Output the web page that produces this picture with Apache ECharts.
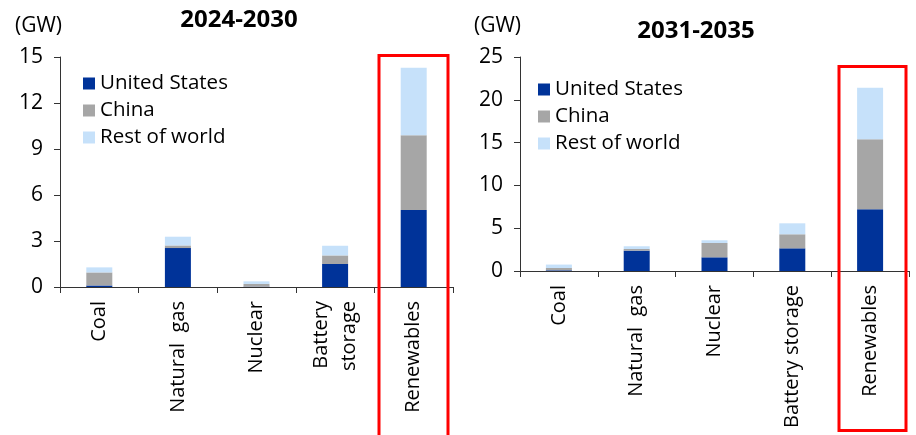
<!DOCTYPE html>
<html>
<head>
<meta charset="utf-8">
<script src="https://cdn.jsdelivr.net/npm/echarts@6/dist/echarts.min.js"></script>
<style>
  html, body { margin: 0; padding: 0; background: #fff; }
  #chart { width: 916px; height: 435px; }
</style>
</head>
<body>
<div id="chart"></div>
<script>
// categories (labels for the two panels)
var catsLeft = ["Coal", "Natural  gas", "Nuclear", "Battery\nstorage", "Renewables"];
var catsRight = ["Coal", "Natural  gas", "Nuclear", "Battery storage", "Renewables"];

// 2024-2030, GW
var usLeft = [0.1, 2.54, 0.02, 1.5, 5.02];
var chinaLeft = [0.85, 0.17, 0.18, 0.56, 4.88];
var rowLeft = [0.33, 0.57, 0.17, 0.63, 4.4];

// 2031-2035, GW
var usRight = [0.08, 2.38, 1.6, 2.65, 7.21];
var chinaRight = [0.27, 0.19, 1.67, 1.64, 8.18];
var rowRight = [0.4, 0.32, 0.32, 1.28, 6.03];

var ticksLeft = { min: 0, max: 15, interval: 3 };
var ticksRight = { min: 0, max: 25, interval: 5 };

var FONT = "Open Sans";
var cUS = "#003399";
var cChina = "#A6A6A6";
var cRow = "#C6E1FA";

var chart = echarts.init(document.getElementById("chart"));

function xAxisOf(idx, cats) {
  return {
    type: "category",
    gridIndex: idx,
    data: cats,
    axisLine: { lineStyle: { color: "#333", width: 1 } },
    axisTick: { show: true, length: 6, alignWithLabel: false, lineStyle: { color: "#333" } },
    axisLabel: {
      rotate: 90,
      interval: 0,
      margin: 14,
      fontFamily: FONT,
      fontSize: 20,
      lineHeight: 28,
      color: "#000"
    }
  };
}

function yAxisOf(idx, t) {
  return {
    type: "value",
    gridIndex: idx,
    min: t.min,
    max: t.max,
    interval: t.interval,
    splitLine: { show: false },
    axisLine: { show: true, lineStyle: { color: "#333", width: 1 } },
    axisTick: { show: true, length: 6, lineStyle: { color: "#333" } },
    axisLabel: { fontFamily: FONT, fontSize: 21, color: "#000", margin: 17 }
  };
}

function barOf(name, data, idx, stack, color) {
  return {
    name: name,
    type: "bar",
    xAxisIndex: idx,
    yAxisIndex: idx,
    stack: stack,
    data: data,
    barWidth: 26,
    itemStyle: { color: color },
    emphasis: { disabled: true }
  };
}

function legendOf(left, top) {
  return {
    orient: "vertical",
    left: left,
    top: top,
    padding: 0,
    itemWidth: 12,
    itemHeight: 12,
    itemGap: 6,
    icon: "rect",
    selectedMode: false,
    data: ["United States", "China", "Rest of world"],
    textStyle: { fontFamily: FONT, fontSize: 20.5, lineHeight: 20, color: "#000" }
  };
}

var option = {
  animation: false,
  textStyle: { fontFamily: FONT },
  title: [
    { text: "2024-2030", left: 234, top: 3, textAlign: "center",
      textStyle: { fontFamily: FONT, fontSize: 24, fontWeight: "bold", color: "#000" } },
    { text: "2031-2035", left: 691, top: 14, textAlign: "center",
      textStyle: { fontFamily: FONT, fontSize: 24, fontWeight: "bold", color: "#000" } },
    { text: "(GW)", left: 15, top: 16, padding: 0,
      textStyle: { fontFamily: FONT, fontSize: 21, fontWeight: "normal", color: "#000" } },
    { text: "(GW)", left: 474, top: 16, padding: 0,
      textStyle: { fontFamily: FONT, fontSize: 21, fontWeight: "normal", color: "#000" } }
  ],
  legend: [legendOf(83, 73), legendOf(538, 79)],
  grid: [
    { left: 60, top: 57, width: 393, height: 230 },
    { left: 520, top: 57, width: 389, height: 214 }
  ],
  xAxis: [xAxisOf(0, catsLeft), xAxisOf(1, catsRight)],
  yAxis: [yAxisOf(0, ticksLeft), yAxisOf(1, ticksRight)],
  series: [
    barOf("United States", usLeft, 0, "left", cUS),
    barOf("China", chinaLeft, 0, "left", cChina),
    barOf("Rest of world", rowLeft, 0, "left", cRow),
    barOf("United States", usRight, 1, "right", cUS),
    barOf("China", chinaRight, 1, "right", cChina),
    barOf("Rest of world", rowRight, 1, "right", cRow)
  ],
  graphic: [
    { type: "rect", shape: { x: 379, y: 55.5, width: 69, height: 400 },
      style: { fill: null, stroke: "#FF0000", lineWidth: 3 }, z: 100 },
    { type: "rect", shape: { x: 839, y: 66.5, width: 67, height: 364 },
      style: { fill: null, stroke: "#FF0000", lineWidth: 3 }, z: 100 }
  ]
};

chart.setOption(option);
</script>
</body>
</html>
